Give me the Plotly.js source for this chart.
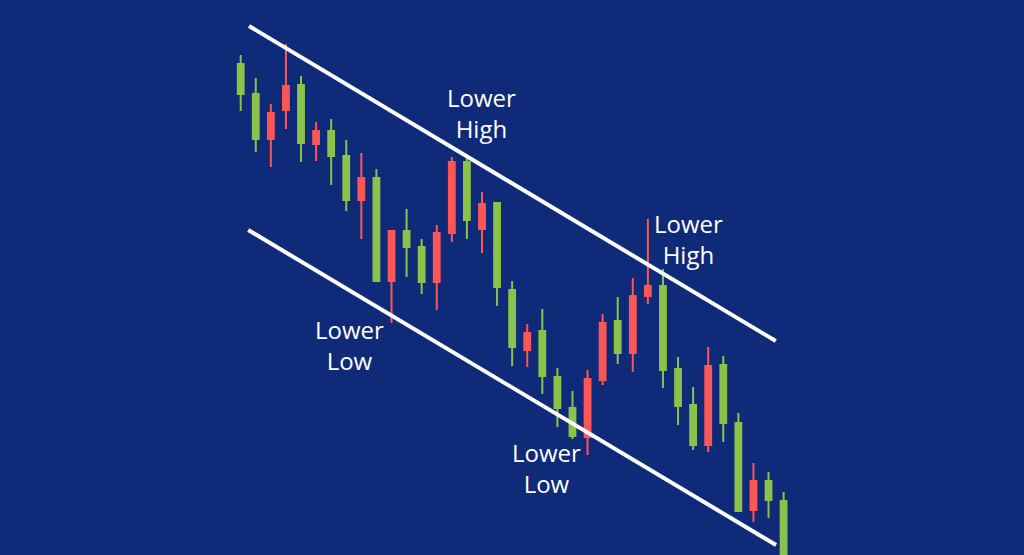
<!DOCTYPE html>
<html>
<head>
<meta charset="utf-8">
<script src="https://cdn.plot.ly/plotly-3.0.1.min.js"></script>
<style>
html,body{margin:0;padding:0;background:#0f2a78;}
#chart{width:1024px;height:555px;}
</style>
</head>
<body>
<div id="chart"></div>
<script>
// Candle index (time) and OHLC prices
var candles = [1,2,3,4,5,6,7,8,9,10,11,12,13,14,15,16,17,18,19,20,21,22,23,24,25,26,27,28,29,30,31,32,33,34,35,36,37];
var openP  = [461,416,442,469,412,424,399,355,377,274,324,308,273,322,393,335,351,268,208,222,179,147,119,176,232,202,259,269,185,149,110,189,132,44,74,55,-20];
var highP  = [500,477,451,511,479,433,436,415,402,386,324,346,316,330,398,397,363,352,274,231,246,187,164,185,241,258,277,336,286,198,168,208,199,142,92,83,63];
var lowP   = [444,403,388,426,393,394,370,344,316,274,232,278,261,245,313,316,302,249,189,188,161,128,116,100,170,191,183,251,167,130,105,103,113,44,33,37,-20];
var closeP = [491,461,416,445,470,411,424,399,355,377,274,324,308,273,322,393,326,352,265,205,224,178,147,118,175,234,202,259,269,186,150,110,190,132,45,74,54];

// Channel lines: [start candle pos, start price, end candle pos, end price]
var upperLine = [1.55, 529, 36.48, 214];
var lowerLine = [1.50, 325, 36.50, 10];

// Labels
var labelText = ["Lower<br>High", "Lower<br>High", "Lower<br>Low", "Lower<br>Low"];
var labelX = [16.95, 30.66, 8.2, 21.25];
var labelY = [442, 316, 210, 87];

var green = "#8bc34a", red = "#fd5656";

var trace = {
  type: "candlestick",
  x: candles, open: openP, high: highP, low: lowP, close: closeP,
  increasing: {line: {color: green, width: 2}, fillcolor: green},
  decreasing: {line: {color: red, width: 2}, fillcolor: red},
  whiskerwidth: 0,
  hoverinfo: "skip",
  showlegend: false
};

var shapes = [upperLine, lowerLine].map(function(l){
  return {type:"line", xref:"x", yref:"y", x0:l[0], y0:l[1], x1:l[2], y1:l[3],
          line:{color:"#ffffff", width:4}, layer:"above"};
});

var annotations = labelText.map(function(t,i){
  return {x:labelX[i], y:labelY[i], xref:"x", yref:"y", text:t, showarrow:false,
          font:{family:"Open Sans, sans-serif", size:24, color:"#ffffff"},
          align:"center", xanchor:"center", yanchor:"middle"};
});

var layout = {
  width:1024, height:555,
  margin:{l:0,r:0,t:0,b:0},
  paper_bgcolor:"#0f2a78", plot_bgcolor:"#0f2a78",
  boxgap:0.45,
  xaxis:{range:[-14.96,52.94], visible:false, showgrid:false, zeroline:false, rangeslider:{visible:false}, fixedrange:true},
  yaxis:{range:[0,555], visible:false, showgrid:false, zeroline:false, fixedrange:true},
  shapes:shapes,
  annotations:annotations,
  showlegend:false
};

Plotly.newPlot("chart", [trace], layout, {staticPlot:true, displayModeBar:false});
</script>
</body>
</html>
